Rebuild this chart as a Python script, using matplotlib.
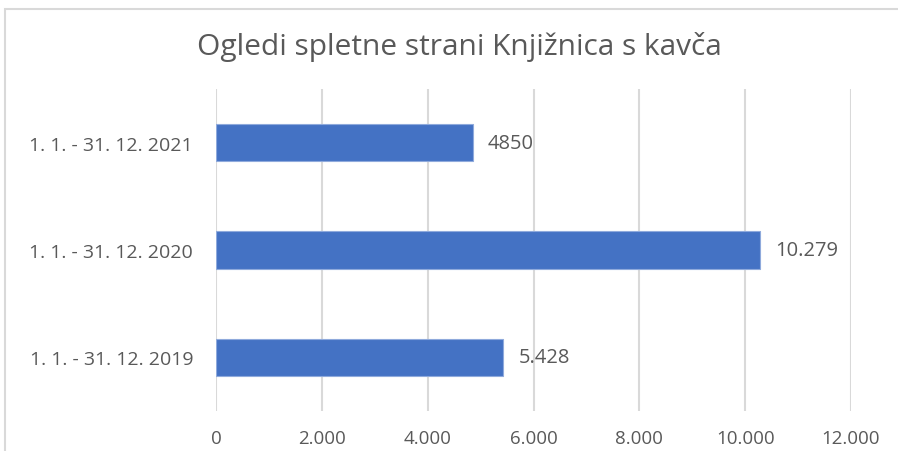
import matplotlib
matplotlib.use("Agg")
import matplotlib.pyplot as plt
from matplotlib.patches import Rectangle

categories = ["1. 1. - 31. 12. 2019", "1. 1. - 31. 12. 2020", "1. 1. - 31. 12. 2021"]
values = [5428, 10279, 4850]
value_labels = ["5.428", "10.279", "4850"]
xticks = [0, 2000, 4000, 6000, 8000, 10000, 12000]
xtick_labels = ["0", "2.000", "4.000", "6.000", "8.000", "10.000", "12.000"]
title = "Ogledi spletne strani Knjižnica s kavča"

plt.rcParams['font.family'] = ['Open Sans', 'DejaVu Sans']
W, H = 898, 452
fig = plt.figure(figsize=(W/100, H/100), dpi=100)
fig.patch.set_facecolor("white")

# chart border
fig.patches.append(Rectangle((5/W, -0.1), 1.2, 1 - 10/H + 0.1, transform=fig.transFigure,
                             fill=False, edgecolor="#d9d9d9", linewidth=1.5))

ax = fig.add_axes([216/W, 1 - 412/H, (851-216)/W, (412-90)/H])
y = range(len(categories))
ax.barh(y, values, height=0.35, color="#4472C4", edgecolor="#8faadc", linewidth=0.8, zorder=3)
ax.set_xlim(0, 12000)
ax.set_ylim(-0.5, len(categories) - 0.5)
ax.set_yticks(list(y))
ax.set_yticklabels(categories, fontsize=14, color="#595959")
ax.set_xticks(xticks)
ax.set_xticklabels(xtick_labels, fontsize=13.5, color="#595959")
ax.tick_params(length=0)
ax.tick_params(axis='x', pad=13)
ax.tick_params(axis='y', pad=16.5)
ax.grid(axis='x', color="#d9d9d9", linewidth=1.5, zorder=0)
for s in ax.spines.values():
    s.set_visible(False)
for yi, v, lab in zip(y, values, value_labels):
    ax.annotate(lab, (v, yi), xytext=(11, 0), textcoords="offset points",
                va="center", ha="left", fontsize=14.5, color="#595959")

fig.text(459/W, 1 - 47/H, title, ha="center", va="center", fontsize=21.5, color="#595959")
fig.savefig("out.png", dpi=100)
